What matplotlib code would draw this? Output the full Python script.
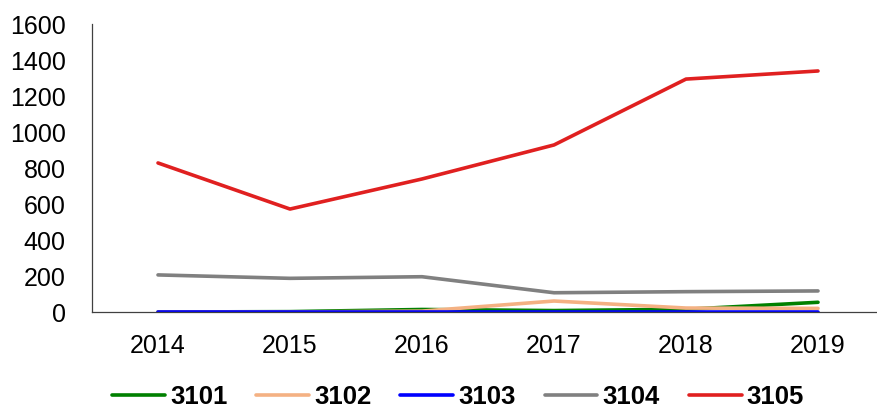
import matplotlib
matplotlib.use("Agg")
import matplotlib.pyplot as plt

plt.rcParams['font.family'] = ['Liberation Sans', 'DejaVu Sans']

years = ["2014", "2015", "2016", "2017", "2018", "2019"]
s3101 = [0, 2, 14, 8, 15, 54]
s3102 = [0, 0, 5, 61, 22, 20]
s3103 = [0, 0, 0, 0, 0, 0]
s3104 = [206, 187, 196, 107, 113, 117]
s3105 = [828, 572, 739, 928, 1294, 1339]

series = [("3101", s3101, "#008000"),
          ("3102", s3102, "#F4B183"),
          ("3103", s3103, "#0000FF"),
          ("3104", s3104, "#808080"),
          ("3105", s3105, "#E02020")]

fig = plt.figure(figsize=(8.77, 4.07), dpi=100)
ax = fig.add_axes([92/877, 1-312/407, (884-92)/877, 288/407])
x = list(range(len(years)))
for name, vals, col in series:
    ax.plot(x, vals, color=col, lw=2.6, label=name, solid_capstyle='round')

ax.set_xlim(-0.5, 5.5)
ax.set_ylim(0, 1600)
ax.set_yticks(range(0, 1601, 200))
ax.set_xticks(x)
ax.set_xticklabels(years)
ax.tick_params(axis='both', length=0, labelsize=18)
ax.tick_params(axis='y', pad=19)
ax.tick_params(axis='x', pad=16)
ax.spines['top'].set_visible(False)
ax.spines['right'].set_visible(False)
for s in ['left', 'bottom']:
    ax.spines[s].set_linewidth(0.9)
    ax.spines[s].set_color('#404040')

leg = fig.legend(loc='center', bbox_to_anchor=(458/877, 10.5/407), ncol=5,
                 frameon=False, prop={'weight': 'bold', 'size': 18.5},
                 handlelength=2.06, columnspacing=1.12, handletextpad=0.2,
                 borderpad=0, borderaxespad=0)
fig.savefig("out.png", dpi=100)
